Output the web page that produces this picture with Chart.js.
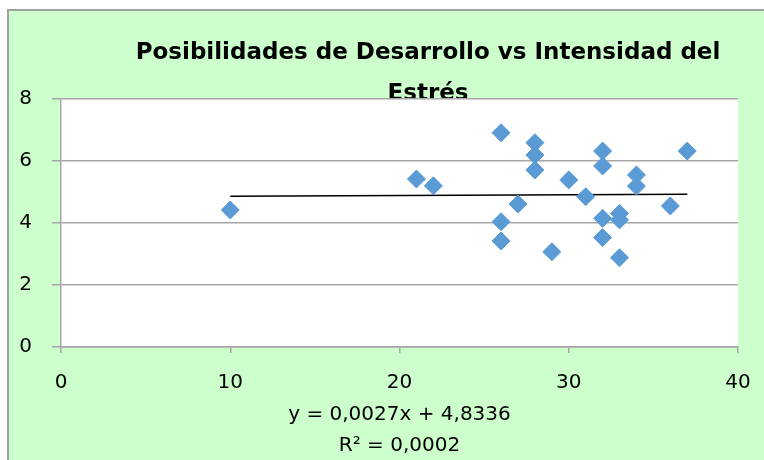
<!DOCTYPE html>
<html>
<head>
<meta charset="utf-8">
<script src="https://cdn.jsdelivr.net/npm/chart.js@4"></script>
<style>
  html, body { margin: 0; padding: 0; background: #ccffcc; overflow: hidden; }
  #wrap { width: 764px; height: 460px; }
  canvas { display: block; }
</style>
</head>
<body>
<div id="wrap"><canvas id="stressChart" width="764" height="460"></canvas></div>
<script>
// Intensidad del estrés (x) vs posibilidades de desarrollo (y)
const intensidad = [10, 21, 22, 26, 26, 26, 27, 28, 28, 28, 29, 30, 31, 32, 32, 32, 32, 33, 33, 33, 34, 34, 36, 37];
const desarrollo = [4.42, 5.42, 5.2, 6.91, 4.04, 3.42, 4.61, 6.59, 6.19, 5.71, 3.07, 5.39, 4.85, 6.32, 5.84, 4.15, 3.53, 4.31, 4.10, 2.88, 5.55, 5.19, 4.55, 6.32];

// linea de tendencia (extremos)
const trendX = [10, 37];
const trendY = [4.86, 4.93];

const xTicks = [0, 10, 20, 30, 40];
const yTicks = [0, 2, 4, 6, 8];

const titleLines = ['Posibilidades de Desarrollo vs Intensidad del', 'Estrés'];
const equationLines = ['y = 0,0027x + 4,8336', 'R² = 0,0002'];

const FONT = '"DejaVu Sans", sans-serif';

// fondo verde, titulo y area blanca del grafico
const backgroundPlugin = {
    id: 'backgroundPlugin',
    beforeDraw(chart) {
        const ctx = chart.ctx;
        const area = chart.chartArea;
        ctx.save();
        ctx.fillStyle = '#ffffff';
        ctx.fillRect(0, 0, chart.width, chart.height);
        ctx.fillStyle = '#ccffcc';
        ctx.fillRect(8, 10, chart.width, chart.height);
        ctx.strokeStyle = '#a0a0a0';
        ctx.lineWidth = 2;
        ctx.beginPath();
        ctx.moveTo(8, chart.height + 5);
        ctx.lineTo(8, 10);
        ctx.lineTo(chart.width + 5, 10);
        ctx.stroke();

        ctx.fillStyle = '#000000';
        ctx.font = 'bold 23px ' + FONT;
        ctx.textAlign = 'center';
        ctx.textBaseline = 'alphabetic';
        ctx.fillText(titleLines[0], 428, 59);
        ctx.fillText(titleLines[1], 428, 100);

        ctx.fillStyle = '#ffffff';
        ctx.fillRect(area.left, area.top, area.right - area.left, area.bottom - area.top);
        ctx.restore();
    }
};

const ctx = document.getElementById('stressChart').getContext('2d');

new Chart(ctx, {
    type: 'scatter',
    data: {
        datasets: [
            {
                type: 'line',
                data: trendX.map((x, i) => ({ x: x, y: trendY[i] })),
                borderColor: '#000000',
                borderWidth: 1.5,
                pointRadius: 0,
                fill: false,
                order: 1
            },
            {
                data: intensidad.map((x, i) => ({ x: x, y: desarrollo[i] })),
                pointStyle: 'rectRot',
                pointRadius: 9,
                pointBackgroundColor: '#5b9bd5',
                pointBorderColor: '#5b9bd5',
                pointBorderWidth: 1,
                order: 0
            }
        ]
    },
    options: {
        responsive: false,
        animation: false,
        layout: { padding: { left: 8, right: 26, top: 99, bottom: 0 } },
        plugins: {
            legend: { display: false },
            tooltip: { enabled: false },
            title: { display: false }
        },
        scales: {
            x: {
                type: 'linear',
                min: 0,
                max: 40,
                afterBuildTicks(scale) { scale.ticks = xTicks.map(v => ({ value: v })); },
                afterFit(scale) {
                    scale.height = 113;
                    scale.paddingLeft = 0;
                    scale.paddingRight = 0;
                },
                border: { color: '#a6a6a6', width: 1.5 },
                grid: { drawOnChartArea: false, drawTicks: true, tickLength: 6, color: '#a6a6a6', lineWidth: 1.5 },
                ticks: { color: '#000000', font: { family: FONT, size: 20 }, padding: 18 },
                title: {
                    display: true,
                    text: equationLines,
                    color: '#000000',
                    font: { family: FONT, size: 20, lineHeight: '31px' },
                    padding: { top: 0, bottom: -1 }
                }
            },
            y: {
                min: 0,
                max: 8,
                afterBuildTicks(scale) { scale.ticks = yTicks.map(v => ({ value: v })); },
                afterFit(scale) { scale.width = 53; },
                border: { color: '#a6a6a6', width: 1.5 },
                grid: { color: '#a6a6a6', lineWidth: 1.5, tickLength: 9 },
                ticks: { color: '#000000', font: { family: FONT, size: 20 }, padding: 20 }
            }
        }
    },
    plugins: [backgroundPlugin]
});
</script>
</body>
</html>
